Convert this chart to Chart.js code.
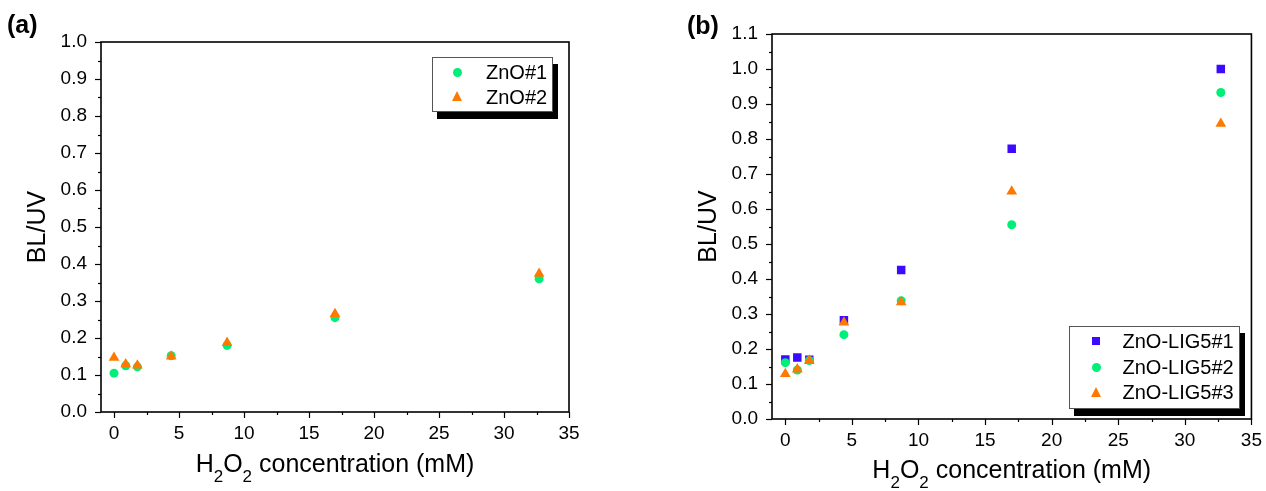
<!DOCTYPE html>
<html>
<head>
<meta charset="utf-8">
<script src="https://cdn.jsdelivr.net/npm/chart.js@4.4.0/dist/chart.umd.min.js"></script>
<style>
  html, body { margin: 0; padding: 0; background: #fff; }
  body { width: 1266px; height: 491px; position: relative; overflow: hidden;
         font-family: 'Liberation Sans', Arial, sans-serif; color: #000; }
  .panel { position: absolute; top: 0; width: 633px; height: 491px; }
  .tag { position: absolute; font-weight: bold; font-size: 25px; line-height: 25px; }
  .legend { position: absolute; background: #fff; border: 1.5px solid #555;
            box-shadow: 5px 7px 0 #000; box-sizing: border-box; }
  .legend .txt { position: absolute; height: 20px; line-height: 20px; font-size: 20px; white-space: nowrap; }
  .legend .sym { position: absolute; }
</style>
</head>
<body>
<div class="panel" style="left:0"><canvas id="chartA" width="633" height="491"></canvas></div>
<div class="panel" style="left:633px"><canvas id="chartB" width="633" height="491"></canvas></div>
<div class="tag" style="left:7px; top:12px">(a)</div>
<div class="tag" style="left:687px; top:13px">(b)</div>
<div class="legend" id="legendA" style="left:432px; top:57px; width:121px; height:55px"></div>
<div class="legend" id="legendB" style="left:1069px; top:326px; width:171px; height:83px"></div>

<script>
// ---- data ----
const concA = [0, 0.9, 1.8, 4.4, 8.7, 17.0, 32.7];
const zno1 = [0.105, 0.125, 0.122, 0.152, 0.180, 0.255, 0.360];
const zno2 = [0.147, 0.129, 0.126, 0.150, 0.187, 0.265, 0.374];

const concB = [0, 0.9, 1.8, 4.4, 8.7, 17.0, 32.7];
const lig1 = [0.170, 0.176, 0.169, 0.282, 0.426, 0.772, 1.000];
const lig2 = [0.161, 0.140, 0.167, 0.241, 0.338, 0.555, 0.933];
const lig3 = [0.129, 0.142, 0.167, 0.276, 0.334, 0.650, 0.844];

const labelsA = ['ZnO#1', 'ZnO#2'];
const labelsB = ['ZnO-LIG5#1', 'ZnO-LIG5#2', 'ZnO-LIG5#3'];

const xMajor = [0, 5, 10, 15, 20, 25, 30, 35];
const yMajorA = [0.0, 0.1, 0.2, 0.3, 0.4, 0.5, 0.6, 0.7, 0.8, 0.9, 1.0];
const yMajorB = [0.0, 0.1, 0.2, 0.3, 0.4, 0.5, 0.6, 0.7, 0.8, 0.9, 1.0, 1.1];

const COLORS = { green: '#00ef78', orange: '#ff7800', blue: '#3c0aff' };
const FONT = "'Liberation Sans', Arial, sans-serif";

function pairs(xs, ys) {
  return xs.map((x, i) => ({ x: x, y: ys[i] }));
}

// majors plus a minor tick halfway between each pair
function withMinors(majors) {
  const out = [];
  majors.forEach((v, i) => {
    out.push({ value: v, major: true });
    if (i < majors.length - 1) out.push({ value: (v + majors[i + 1]) / 2, major: false });
  });
  return out;
}

function isMajor(list, v) {
  return list.some(m => Math.abs(m - v) < 1e-6);
}

// box, outward tick marks (long major / short minor) and titles with subscripts
const frame = {
  id: 'frame',
  afterDraw(chart, args, opts) {
    const { ctx, chartArea: a, scales } = chart;
    ctx.save();
    ctx.strokeStyle = '#000';
    ctx.lineWidth = 1.2;
    scales.x.ticks.forEach(t => {
      const px = Math.round(scales.x.getPixelForValue(t.value)) + 0.5;
      const len = isMajor(xMajor, t.value) ? 6 : 3;
      ctx.beginPath(); ctx.moveTo(px, a.bottom); ctx.lineTo(px, a.bottom + len); ctx.stroke();
    });
    scales.y.ticks.forEach(t => {
      const py = Math.round(scales.y.getPixelForValue(t.value)) + 0.5;
      const len = isMajor(opts.yMajor, t.value) ? 6 : 3;
      ctx.beginPath(); ctx.moveTo(a.left, py); ctx.lineTo(a.left - len, py); ctx.stroke();
    });
    ctx.lineWidth = 1.6;
    ctx.strokeRect(a.left, a.top, a.right - a.left, a.bottom - a.top);

    // x title: H2O2 concentration (mM)
    const parts = [['H', 0], ['2', 1], ['O', 0], ['2', 1], [' concentration (mM)', 0]];
    const big = '25px ' + FONT, small = '17px ' + FONT;
    let total = 0;
    parts.forEach(p => { ctx.font = p[1] ? small : big; total += ctx.measureText(p[0]).width; });
    let x = (a.left + a.right) / 2 - total / 2;
    const base = a.bottom + opts.xTitleGap;
    ctx.fillStyle = '#000';
    ctx.textBaseline = 'alphabetic';
    ctx.textAlign = 'left';
    parts.forEach(p => {
      ctx.font = p[1] ? small : big;
      ctx.fillText(p[0], x, p[1] ? base + 10 : base);
      x += ctx.measureText(p[0]).width;
    });

    // y title
    ctx.font = big;
    ctx.textAlign = 'center';
    ctx.textBaseline = 'middle';
    ctx.translate(a.left - opts.yTitleGap, (a.top + a.bottom) / 2);
    ctx.rotate(-Math.PI / 2);
    ctx.fillText('BL/UV', 0, 0);
    ctx.restore();
  }
};

function scatterSet(label, data, style, color, radius, order) {
  return {
    label: label,
    data: data,
    pointStyle: style,
    pointRadius: radius,
    pointHoverRadius: radius,
    pointBackgroundColor: color,
    pointBorderColor: color,
    pointBorderWidth: 0,
    showLine: false,
    order: order
  };
}

function makeChart(canvas, datasets, yMajor, pad, yWidth, xHeight, xTitleGap) {
  return new Chart(canvas, {
    type: 'scatter',
    data: { datasets: datasets },
    plugins: [frame],
    options: {
      responsive: false,
      animation: false,
      events: [],
      layout: { padding: pad },
      plugins: {
        legend: { display: false },
        tooltip: { enabled: false },
        frame: { yMajor: yMajor, xTitleGap: xTitleGap, yTitleGap: 63 }
      },
      scales: {
        x: {
          type: 'linear',
          min: -1,
          max: 35,
          afterBuildTicks: s => { s.ticks = withMinors(xMajor); },
          afterFit: s => { s.height = xHeight; },
          grid: { display: true, drawOnChartArea: false, drawTicks: true, tickLength: 6, tickColor: 'rgba(0,0,0,0)' },
          border: { display: false },
          ticks: {
            autoSkip: false,
            maxRotation: 0,
            padding: 4,
            color: '#000',
            font: { family: FONT, size: 19 },
            callback: v => isMajor(xMajor, v) ? String(Math.round(v)) : ''
          }
        },
        y: {
          type: 'linear',
          min: 0,
          max: yMajor[yMajor.length - 1],
          afterBuildTicks: s => { s.ticks = withMinors(yMajor); },
          afterFit: s => { s.width = yWidth; },
          grid: { display: true, drawOnChartArea: false, drawTicks: true, tickLength: 6, tickColor: 'rgba(0,0,0,0)' },
          border: { display: false },
          ticks: {
            autoSkip: false,
            padding: 8,
            color: '#000',
            font: { family: FONT, size: 19 },
            callback: v => isMajor(yMajor, v) ? v.toFixed(1) : ''
          }
        }
      }
    }
  });
}

function buildLegend(el, labels, styles, colors, rowsY, symX, textX) {
  labels.forEach((lab, i) => {
    const sym = document.createElement('div');
    sym.className = 'sym';
    const c = colors[i];
    if (styles[i] === 'circle') {
      Object.assign(sym.style, { width: '9px', height: '9px', borderRadius: '50%', background: c,
        left: (symX - 4.5) + 'px', top: (rowsY[i] - 4.5) + 'px' });
    } else if (styles[i] === 'rect') {
      Object.assign(sym.style, { width: '8px', height: '8px', background: c,
        left: (symX - 4) + 'px', top: (rowsY[i] - 4) + 'px' });
    } else {
      Object.assign(sym.style, { width: '0', height: '0', borderLeft: '5.5px solid transparent',
        borderRight: '5.5px solid transparent', borderBottom: '10px solid ' + c,
        left: (symX - 5.5) + 'px', top: (rowsY[i] - 5.5) + 'px' });
    }
    el.appendChild(sym);
    const t = document.createElement('div');
    t.className = 'txt';
    t.textContent = lab;
    t.style.left = textX + 'px';
    t.style.top = (rowsY[i] - 10) + 'px';
    el.appendChild(t);
  });
}

document.addEventListener('DOMContentLoaded', function () {
  if (typeof Chart === 'undefined') return;

  makeChart(document.getElementById('chartA'), [
    scatterSet(labelsA[0], pairs(concA, zno1), 'circle', COLORS.green, 4.5, 1),
    scatterSet(labelsA[1], pairs(concA, zno2), 'triangle', COLORS.orange, 6.2, 0)
  ], yMajorA, { left: 0, right: 64, top: 42, bottom: 0 }, 101, 79, 60);

  makeChart(document.getElementById('chartB'), [
    scatterSet(labelsB[0], pairs(concB, lig1), 'rect', COLORS.blue, 6, 2),
    scatterSet(labelsB[1], pairs(concB, lig2), 'circle', COLORS.green, 4.5, 1),
    scatterSet(labelsB[2], pairs(concB, lig3), 'triangle', COLORS.orange, 6.2, 0)
  ], yMajorB, { left: 0, right: 12, top: 34, bottom: 0 }, 139, 72, 59);

  buildLegend(document.getElementById('legendA'), labelsA, ['circle', 'triangle'],
    [COLORS.green, COLORS.orange], [14, 38.5], 24, 53);
  buildLegend(document.getElementById('legendB'), labelsB, ['rect', 'circle', 'triangle'],
    [COLORS.blue, COLORS.green, COLORS.orange], [14, 40, 65], 26, 52.5);
});
</script>
</body>
</html>
